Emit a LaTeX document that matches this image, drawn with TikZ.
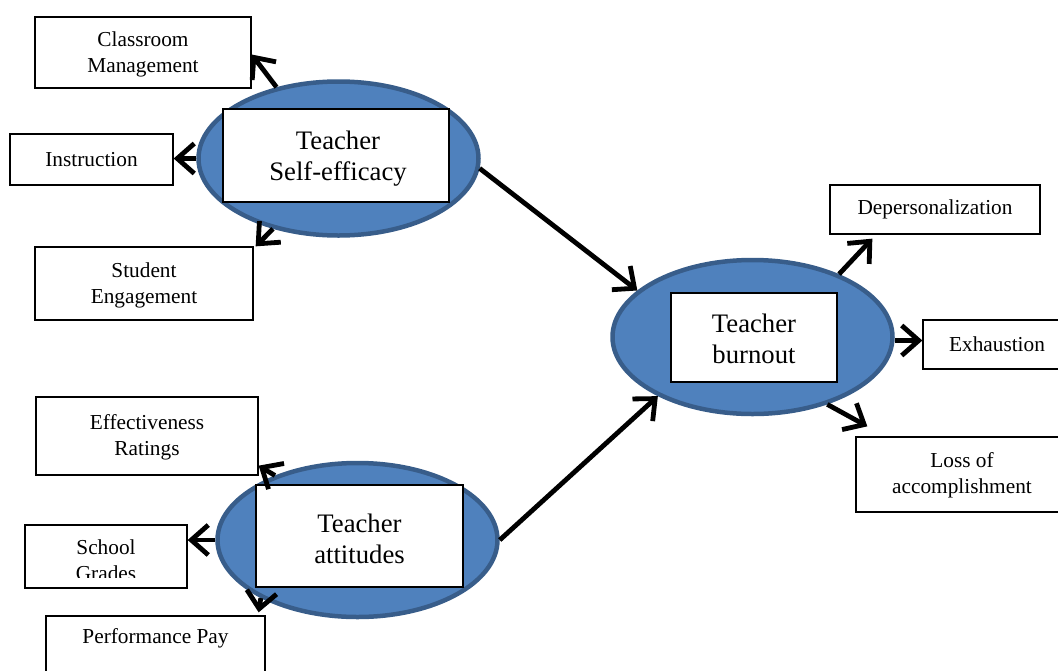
\documentclass[tikz,border=0pt]{standalone}
\usepackage{fontspec}
\setmainfont{Liberation Serif}
\usetikzlibrary{shapes.geometric,arrows.meta,calc}
\definecolor{ellfill}{HTML}{4F81BD}
\definecolor{elldraw}{HTML}{385D8A}
\newcommand\smtxt{\fontsize{21.3}{26}\selectfont}
\newcommand\bgtxt{\fontsize{26.7}{31}\selectfont}
\tikzset{
  box/.style={draw=black, line width=1.3pt, fill=white, rectangle, inner sep=0pt, align=center, font=\smtxt},
  ibox/.style={draw=black, line width=1.4pt, fill=white, rectangle, inner sep=0pt, align=center, font=\bgtxt},
  ell/.style={ellipse, draw=elldraw, fill=ellfill, line width=4.5pt, inner sep=0pt, minimum width=280pt, minimum height=154pt},
  arr/.style={line width=4.8pt, -{Straight Barb[length=17pt,width=30pt,line width=4.8pt]}},
  txt/.style={inner sep=0pt, align=center, font=\smtxt}
}
\begin{document}
\begin{tikzpicture}[x=1pt,y=-1pt]
\useasboundingbox (0,0) rectangle (1058,670);
% small boxes
\node[box, minimum width=216, minimum height=71] (cm) at (143,52.5) {};
\node[txt] (cmtext) at (143,54.5) {Classroom\\Management};
\node[box, minimum width=163, minimum height=51] (ins) at (91.5,159.5) {Instruction};
\node[box, minimum width=218, minimum height=73] (se) at (144,283.5) {};
\node[txt] (setext) at (144,285.5) {Student\\Engagement};
\node[box, minimum width=222, minimum height=78] (eff) at (147,436) {};
\node[txt] (efftext) at (147,437.5) {Effectiveness\\Ratings};
\node[box, minimum width=162, minimum height=63] (sg) at (106,556.5) {};
\begin{scope}
\clip (sg.north west) rectangle ($(sg.south east)+(0,-11)$);
\node[txt] (sgtext) at (106,560) {School\\Grades};
\end{scope}
\node[box, minimum width=219, minimum height=104] (pp) at (155.5,668) {};
\node[txt] (pptext) at (155.5,638) {Performance Pay};
\node[box, minimum width=210, minimum height=49] (dep) at (935,209.5) {Depersonalization};
\node[box, minimum width=148, minimum height=49] (exh) at (997,344.5) {Exhaustion};
\node[box, minimum width=212, minimum height=75] (loss) at (962,474.5) {};
\node[txt] (losstext) at (962,475.5) {Loss of\\accomplishment};
% ellipses
\node[ell] (e1) at (338.5,158.5) {};
\node[ibox, minimum width=226, minimum height=93] (b1) at (336,155.5) {};
\node[inner sep=0pt, align=center, font=\bgtxt] (t1) at (338,159) {Teacher\\Self-efficacy};
\node[ell] (e2) at (357.5,540) {};
\node[ibox, minimum width=207, minimum height=102] (b2) at (359.5,536) {};
\node[inner sep=0pt, align=center, font=\bgtxt] (t2) at (359.5,539) {Teacher\\attitudes};
\node[ell] (e3) at (752.5,337) {};
\node[ibox, minimum width=166, minimum height=89] (b3) at (754,337.5) {};
\node[inner sep=0pt, align=center, font=\bgtxt] (t3) at (754,339) {Teacher\\burnout};
% arrows
\draw[arr] (e1.131.6) -- ([yshift=-2pt]cm.east);
\draw[arr] (e1.west) -- (e1.west -| ins.east);
\draw[arr] (e1.227) -- ([xshift=2pt]se.north east);
\draw[arr] (e1.356) -- (e3.158);
\draw[arr] (e2.142) -- ([yshift=10pt]eff.south east);
\draw[arr] (e2.west) -- (e2.west -| sg.east);
\draw[arr] (e2.211.6) -- ([xshift=-7pt,yshift=3pt]pp.north east);
\draw[arr] (e2.0) -- (e3.212);
\draw[arr] (e3.36) -- ($(dep.south west)+(43,4)$);
\draw[arr] ([yshift=4pt]e3.east |- exh.west) -- ([yshift=4pt]exh.west);
\draw[arr] (e3.318.7) -- ($(loss.north west)+(12,-10)$);
\end{tikzpicture}
\end{document}
